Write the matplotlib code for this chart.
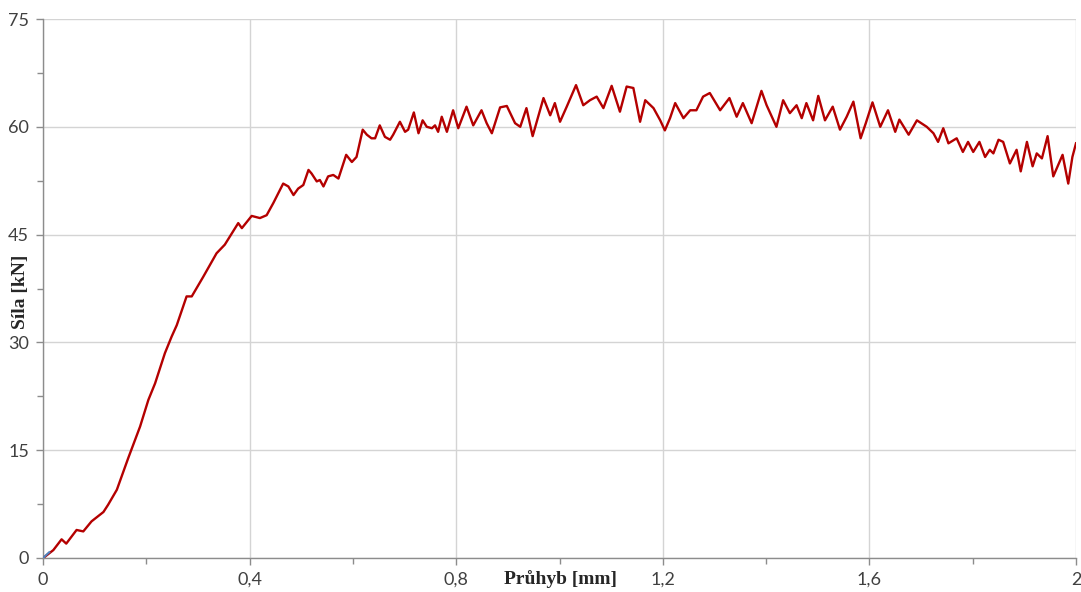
import matplotlib
matplotlib.use("Agg")
import matplotlib.pyplot as plt
from matplotlib.ticker import MultipleLocator, FuncFormatter

# Load-deflection record of the bending test
deflection_mm = [
    0.004, 0.020, 0.036, 0.045, 0.065, 0.078, 0.094, 0.117, 0.126, 0.143,
    0.165, 0.188, 0.204, 0.217, 0.236, 0.249, 0.259, 0.278, 0.288, 0.310,
    0.336, 0.352, 0.378, 0.385, 0.404, 0.420, 0.433, 0.446, 0.465, 0.475,
    0.485, 0.494, 0.504, 0.514, 0.520, 0.530, 0.536, 0.543, 0.552, 0.562,
    0.572, 0.587, 0.598, 0.607, 0.619, 0.627, 0.636, 0.643, 0.652, 0.662,
    0.672, 0.678, 0.691, 0.701, 0.707, 0.718, 0.727, 0.735, 0.743, 0.753,
    0.759, 0.765, 0.772, 0.782, 0.794, 0.804, 0.820, 0.833, 0.849, 0.859,
    0.869, 0.885, 0.898, 0.914, 0.924, 0.936, 0.948, 0.969, 0.982, 0.991,
    1.001, 1.014, 1.032, 1.046, 1.059, 1.072, 1.085, 1.101, 1.117, 1.130,
    1.143, 1.156, 1.166, 1.182, 1.195, 1.204, 1.214, 1.224, 1.240, 1.253,
    1.265, 1.278, 1.291, 1.311, 1.329, 1.343, 1.355, 1.372, 1.391, 1.401,
    1.420, 1.433, 1.446, 1.459, 1.469, 1.478, 1.491, 1.501, 1.514, 1.529,
    1.543, 1.556, 1.569, 1.583, 1.593, 1.606, 1.621, 1.636, 1.650, 1.658,
    1.676, 1.692, 1.711, 1.724, 1.733, 1.743, 1.753, 1.769, 1.781, 1.791,
    1.801, 1.813, 1.824, 1.833, 1.840, 1.850, 1.859, 1.872, 1.885, 1.893,
    1.905, 1.916, 1.924, 1.934, 1.945, 1.956, 1.974, 1.985, 1.993, 2.000,
]
force_kn = [
    0.2, 1.1, 2.6, 2.0, 3.9, 3.7, 5.1, 6.4, 7.4, 9.5,
    13.9, 18.3, 22.0, 24.3, 28.5, 30.8, 32.4, 36.4, 36.4, 39.1,
    42.4, 43.6, 46.6, 45.9, 47.6, 47.3, 47.7, 49.4, 52.1, 51.7,
    50.5, 51.4, 51.9, 54.0, 53.5, 52.4, 52.6, 51.7, 53.1, 53.3,
    52.8, 56.1, 55.1, 55.8, 59.6, 58.9, 58.4, 58.4, 60.2, 58.6,
    58.2, 58.9, 60.7, 59.3, 59.6, 62.0, 59.1, 60.9, 60.0, 59.8,
    60.2, 59.3, 61.4, 59.3, 62.3, 59.8, 62.8, 60.2, 62.3, 60.5,
    59.1, 62.7, 62.9, 60.5, 60.0, 62.6, 58.7, 64.0, 61.6, 63.3,
    60.7, 62.8, 65.8, 63.0, 63.7, 64.2, 62.6, 65.7, 62.1, 65.6,
    65.4, 60.7, 63.7, 62.6, 60.9, 59.5, 61.2, 63.3, 61.2, 62.3,
    62.3, 64.2, 64.7, 62.3, 64.0, 61.4, 63.3, 60.5, 65.0, 63.0,
    60.0, 63.7, 61.9, 63.0, 61.2, 63.3, 60.9, 64.3, 60.9, 62.8,
    59.6, 61.4, 63.5, 58.4, 60.5, 63.4, 60.0, 62.3, 59.3, 61.0,
    58.9, 60.9, 60.0, 59.1, 57.9, 59.8, 57.7, 58.4, 56.5, 57.9,
    56.5, 57.9, 55.8, 56.8, 56.3, 58.2, 57.9, 54.9, 56.8, 53.8,
    57.9, 54.5, 56.3, 55.6, 58.7, 53.1, 56.1, 52.1, 55.8, 57.7,
]
# Initial seating segment
seat_x = [0.0, 0.012]
seat_y = [0.0, 0.8]

x_ticks = [0, 0.4, 0.8, 1.2, 1.6, 2.0]
y_ticks = [0, 15, 30, 45, 60, 75]

fig = plt.figure(figsize=(10.81, 5.92), dpi=100)
ax = fig.add_axes([43 / 1081, 1 - 558 / 592, (1076 - 43) / 1081, (558 - 19) / 592])

ax.plot(deflection_mm, force_kn, color="#B40000", lw=1.7, solid_joinstyle="round", zorder=3)
ax.plot(seat_x, seat_y, color="#4F81BD", lw=1.5, zorder=4)

ax.set_xlim(0, 2)
ax.set_ylim(0, 75)
ax.set_xticks(x_ticks)
ax.set_yticks(y_ticks)
ax.xaxis.set_minor_locator(MultipleLocator(0.2))
ax.yaxis.set_minor_locator(MultipleLocator(7.5))

def comma_fmt(v, pos):
    if abs(v - round(v)) < 1e-9:
        return f"{int(round(v))}"
    return f"{v:g}".replace(".", ",")

ax.xaxis.set_major_formatter(FuncFormatter(comma_fmt))
ax.yaxis.set_major_formatter(FuncFormatter(comma_fmt))

ax.grid(True, which="major", color="#d4d4d4", lw=1.0, zorder=0)
for s in ("top", "right"):
    ax.spines[s].set_visible(False)
for s in ("left", "bottom"):
    ax.spines[s].set_color("#8c8c8c")
    ax.spines[s].set_linewidth(1.0)

ax.tick_params(which="both", direction="out", color="#8c8c8c", width=1.0,
               labelsize=13, labelcolor="#404040")
ax.tick_params(which="major", length=5, pad=5)
ax.tick_params(which="minor", length=4)
for lab in ax.get_xticklabels() + ax.get_yticklabels():
    lab.set_fontfamily("Lato")

fig.text(560 / 1081, 1 - 579 / 592, "Průhyb [mm]", ha="center", va="center",
         fontsize=14, fontweight="bold", family="Liberation Serif", color="#262626")
fig.text(21 / 1081, 1 - 292 / 592, "Síla [kN]", ha="center", va="center",
         rotation=90, fontsize=14, fontweight="bold", family="Liberation Serif",
         color="#262626")

fig.savefig("out.png", dpi=100)
